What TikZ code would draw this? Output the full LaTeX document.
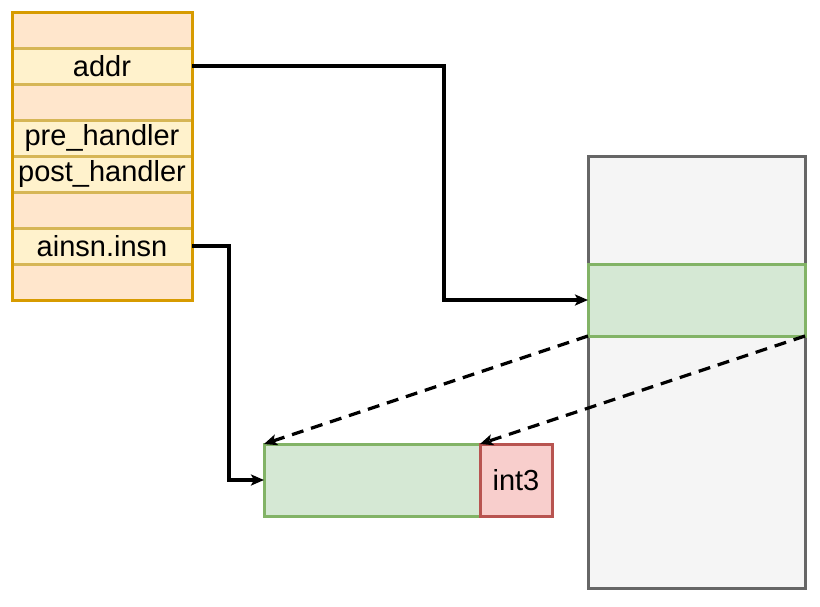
\documentclass[tikz,border=0pt]{standalone}
\usepackage{fontspec}
\setmainfont{Liberation Sans}
\usetikzlibrary{arrows.meta}
\definecolor{orgS}{HTML}{D79B00}
\definecolor{orgF}{HTML}{FFE6CC}
\definecolor{ylwS}{HTML}{D6B656}
\definecolor{ylwF}{HTML}{FFF2CC}
\definecolor{grnS}{HTML}{82B366}
\definecolor{grnF}{HTML}{D5E8D4}
\definecolor{gryS}{HTML}{666666}
\definecolor{gryF}{HTML}{F5F5F5}
\definecolor{redS}{HTML}{B85450}
\definecolor{redF}{HTML}{F8CECC}
\begin{document}
\begin{tikzpicture}[x=1pt,y=-1pt,
  box/.style={draw, line width=3pt, inner sep=0pt, outer sep=0pt, font=\fontsize{29}{33}\selectfont},
  field/.style={box, draw=ylwS, fill=ylwF, minimum width=180pt, minimum height=36pt, anchor=north west},
  gap/.style={box, draw=ylwS, fill=orgF, minimum width=180pt, minimum height=36pt, anchor=north west},
  link/.style={line width=3.2pt, -{Stealth[length=13pt,width=11pt,inset=3pt]}},
  dlink/.style={link, dash pattern=on 12pt off 8pt}]
\useasboundingbox (0,0) rectangle (820,606);
% left structure
\node[gap] (r1) at (12,12) {};
\node[field] (addr) at (12,48) {addr};
\node[gap] (r3) at (12,84) {};
\node[field] (pre) at (12,120) {pre\_handler};
\node[field] (post) at (12,156) {post\_handler};
\node[gap] (r6) at (12,192) {};
\node[field] (ainsn) at (12,228) {ainsn.insn};
\node[gap] (r8) at (12,264) {};
\draw[orgS, line width=3pt] (12,12) rectangle (192,300);
% right memory
\node[box, draw=gryS, fill=gryF, minimum width=217pt, minimum height=432pt, anchor=north west] (mem) at (588,156) {};
\node[box, draw=grnS, fill=grnF, minimum width=217pt, minimum height=72pt, anchor=north west] (orig) at (588,264) {};
% copy slot
\node[box, draw=grnS, fill=grnF, minimum width=216pt, minimum height=72pt, anchor=north west] (slot) at (264,444) {};
\node[box, draw=redS, fill=redF, minimum width=72pt, minimum height=72pt, anchor=north west] (int3) at (480,444) {int3};
% connectors
\draw[link] (addr.east) -| (444,300) -- (orig.west);
\draw[link] (ainsn.east) -| (229,480) -- (slot.west);
\draw[dlink] (orig.south west) -- (slot.north west);
\draw[dlink] (orig.south east) -- (int3.north west);
\end{tikzpicture}
\end{document}
